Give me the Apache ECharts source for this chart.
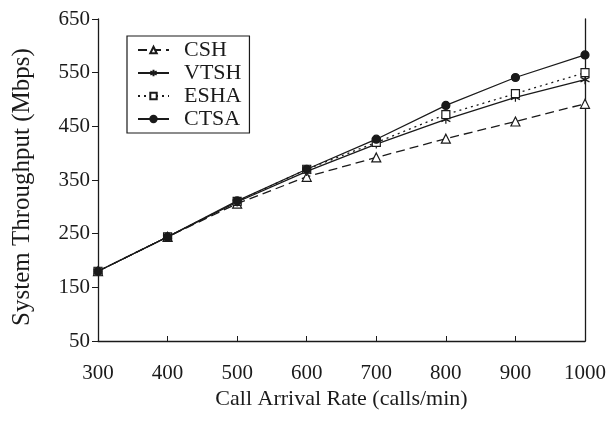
<!DOCTYPE html>
<html style="height: 100%">
<head>
    <meta charset="utf-8">
    <script type="text/javascript" src="https://cdn.jsdelivr.net/npm/echarts@6/dist/echarts.min.js"></script>
    <title>System Throughput</title>
</head>
<body style="height: 100%; margin: 0; background: #fff">
<div id="container" style="width: 609px; height: 422px"></div>
</body>
<script type="text/javascript">
    // call arrival rate (calls/min)
    let rates = [300, 400, 500, 600, 700, 800, 900, 1000];
    let cshData = [180, 244, 306, 356, 392, 427, 459, 492];
    let vtshData = [180, 244, 309, 366, 417, 463, 504, 537];
    let eshaData = [180, 244, 310, 370, 420, 472, 511, 550];
    let ctsaData = [180, 244, 311, 370, 426, 489, 541, 583];
    let yTicks = [50, 150, 250, 350, 450, 550, 650];

    let dom = document.getElementById("container");
    let myChart = echarts.init(dom);
    let font = 'Liberation Serif';
    let ink = '#1a1a1a';
    let star = 'path://M0,-10L0,10M-8.7,-5L8.7,5M-8.7,5L8.7,-5';

    function pairs(vals) {
        return rates.map(function (r, i) { return [r, vals[i]]; });
    }

    function mkSeries(name, vals, symbol, size, type, fill) {
        return {
            name: name,
            type: 'line',
            data: pairs(vals),
            symbol: symbol,
            symbolSize: size,
            showAllSymbol: true,
            lineStyle: { color: ink, width: 1.3, type: type },
            itemStyle: { color: fill, borderColor: ink, borderWidth: 1.2 },
            emphasis: { disabled: true }
        };
    }

    let option = {
        backgroundColor: '#fff',
        animation: false,
        grid: { left: 98, right: 15, top: 19, bottom: 81 },
        legend: {
            orient: 'vertical',
            left: 127,
            top: 36,
            padding: [3, 8, 3, 10],
            itemGap: 1,
            itemWidth: 31,
            itemHeight: 8,
            borderColor: ink,
            borderWidth: 1.2,
            textStyle: { fontFamily: font, fontSize: 22, color: ink, padding: [0, 0, 0, 10] },
            data: ['CSH', 'VTSH', 'ESHA', 'CTSA']
        },
        xAxis: {
            type: 'value',
            min: 300,
            max: 1000,
            interval: 100,
            name: 'Call Arrival Rate (calls/min)',
            nameLocation: 'middle',
            nameGap: 47,
            nameMoveOverlap: false,
            nameTextStyle: { fontFamily: font, fontSize: 22, color: ink },
            axisLine: { lineStyle: { color: ink, width: 1.3 } },
            axisTick: { inside: true, length: 5, lineStyle: { color: ink } },
            axisLabel: {
                fontFamily: font, fontSize: 21, color: ink, margin: 22,
                formatter: function (v) { return String(v); }
            },
            splitLine: { show: false }
        },
        yAxis: [{
            type: 'value',
            min: 50,
            max: 650,
            name: 'System Throughput (Mbps)',
            nameLocation: 'middle',
            nameGap: 63,
            nameMoveOverlap: false,
            nameTextStyle: { fontFamily: font, fontSize: 25, color: ink, padding: [0, 14, 0, 0] },
            axisLine: { show: true, lineStyle: { color: ink, width: 1.3 } },
            axisTick: { show: true, length: 6, customValues: yTicks, lineStyle: { color: ink } },
            axisLabel: { fontFamily: font, fontSize: 21, color: ink, margin: 8, customValues: yTicks },
            splitLine: { show: false }
        }, {
            type: 'value',
            position: 'right',
            min: 50,
            max: 650,
            axisLine: { show: true, lineStyle: { color: ink, width: 1.3 } },
            axisTick: { show: false },
            axisLabel: { show: false },
            splitLine: { show: false }
        }],
        series: [
            mkSeries('CSH', cshData, 'triangle', 9, [9, 5], '#fff'),
            mkSeries('VTSH', vtshData, star, 9, 'solid', ink),
            mkSeries('ESHA', eshaData, 'rect', 8, [2, 4], '#fff'),
            mkSeries('CTSA', ctsaData, 'circle', 8, 'solid', ink)
        ]
    };
    myChart.setOption(option);
</script>
</html>
